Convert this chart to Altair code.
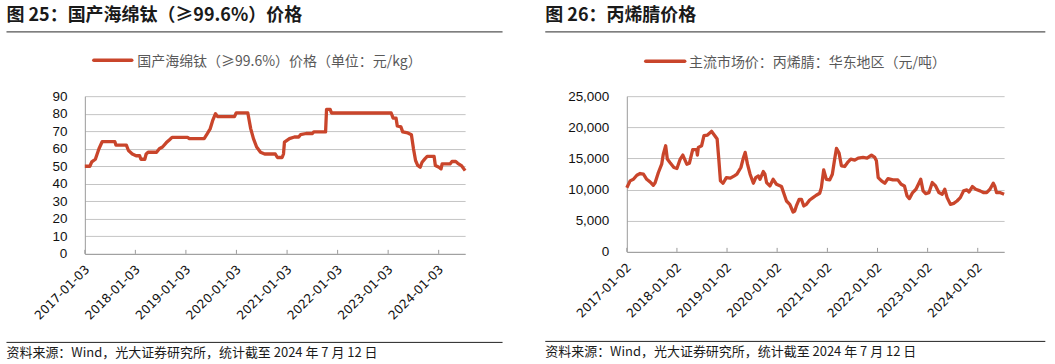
import altair as alt
import pandas as pd

LINE_COLOR = "#C9452B"
AXIS_GRAY = "#9a9a9a"
GRID_GRAY = "#c4c4c4"

# ---------------- data ----------------
ti_dates = [
    "2017-01-03", "2017-02-08", "2017-02-22", "2017-03-20", "2017-04-02", "2017-04-15",
    "2017-05-08", "2017-08-08", "2017-08-16", "2017-10-30", "2017-11-14", "2017-12-12",
    "2018-01-08", "2018-02-03", "2018-02-12", "2018-03-12", "2018-03-22", "2018-04-05",
    "2018-06-05", "2018-06-25", "2018-07-18", "2018-08-15", "2018-09-05", "2018-09-25",
    "2019-01-15", "2019-01-28", "2019-05-15", "2019-06-02", "2019-06-28", "2019-07-15",
    "2019-08-05", "2019-08-20", "2019-12-20", "2020-01-02", "2020-03-25", "2020-04-15",
    "2020-05-05", "2020-05-28", "2020-06-25", "2020-07-25", "2020-10-10", "2020-10-25",
    "2020-11-28", "2020-12-08", "2020-12-15", "2021-01-20", "2021-02-25", "2021-03-28",
    "2021-04-10", "2021-05-20", "2021-07-05", "2021-07-15", "2021-10-08", "2021-10-15",
    "2021-11-10", "2021-11-20", "2023-01-25", "2023-02-08", "2023-03-01", "2023-03-10",
    "2023-04-05", "2023-04-18", "2023-05-25", "2023-06-20", "2023-07-05", "2023-07-20",
    "2023-08-05", "2023-08-22", "2023-09-05", "2023-09-25", "2023-10-12", "2023-12-01",
    "2023-12-10", "2024-01-05", "2024-01-20", "2024-01-28", "2024-03-25", "2024-04-08",
    "2024-05-05", "2024-05-20", "2024-06-15", "2024-07-12",
]
ti_values = [
    50, 50, 52.5, 54, 57, 60,
    64, 64, 62, 62, 59, 57,
    56, 56, 54, 54, 57, 58,
    58, 60, 61, 63.5, 65, 66.5,
    66.5, 65.8, 65.8, 68, 71.5, 76,
    80, 78.3, 78.3, 80.5, 80.5, 71.5,
    65.8, 61, 58, 57, 57, 55,
    55, 57, 63.8, 65.8, 66.7, 66.7,
    68, 68.7, 68.7, 69.6, 69.6, 82.5,
    82.5, 80.4, 80.4, 77.5, 77.5, 73,
    72.5, 69.6, 69, 68, 60, 53.3,
    50.4, 49.4, 52.3, 54.2, 55.6, 55.6,
    50.4, 49.4, 48.5, 51.3, 51.3, 52.7,
    52.7, 51.7, 50.4, 47.5,
]

acn_dates = [
    "2017-01-02", "2017-01-26", "2017-02-19", "2017-03-16", "2017-04-09", "2017-05-03",
    "2017-05-27", "2017-06-20", "2017-07-14", "2017-07-27", "2017-08-20", "2017-09-13",
    "2017-09-25", "2017-10-12", "2017-10-24", "2017-11-12", "2017-12-11", "2018-01-02",
    "2018-01-26", "2018-02-14", "2018-03-15", "2018-04-03", "2018-04-27", "2018-05-26",
    "2018-05-31", "2018-06-07", "2018-07-01", "2018-07-18", "2018-08-13", "2018-09-11",
    "2018-10-05", "2018-10-22", "2018-11-03", "2018-11-15", "2018-12-04", "2018-12-28",
    "2019-01-26", "2019-02-24", "2019-03-15", "2019-04-13", "2019-05-02", "2019-05-14",
    "2019-05-31", "2019-06-19", "2019-07-13", "2019-07-30", "2019-08-18", "2019-08-30",
    "2019-09-23", "2019-10-05", "2019-10-17", "2019-11-10", "2019-12-04", "2019-12-28",
    "2020-02-03", "2020-02-22", "2020-03-10", "2020-04-03", "2020-04-27", "2020-05-09",
    "2020-05-21", "2020-06-10", "2020-06-27", "2020-07-14", "2020-08-02", "2020-08-26",
    "2020-09-19", "2020-10-13", "2020-11-07", "2020-11-19", "2020-12-06", "2020-12-25",
    "2021-01-19", "2021-02-07", "2021-02-24", "2021-03-09", "2021-03-28", "2021-04-14",
    "2021-05-08", "2021-06-02", "2021-06-21", "2021-07-20", "2021-08-14", "2021-09-19",
    "2021-10-18", "2021-11-19", "2021-12-13", "2021-12-25", "2022-01-07", "2022-01-31",
    "2022-02-24", "2022-03-19", "2022-04-24", "2022-05-30", "2022-06-23", "2022-07-17",
    "2022-08-05", "2022-08-22", "2022-09-15", "2022-10-09", "2022-11-02", "2022-11-13",
    "2022-11-30", "2022-12-19", "2023-01-12", "2023-02-05", "2023-03-01", "2023-03-25",
    "2023-04-18", "2023-05-07", "2023-05-24", "2023-06-17", "2023-07-11", "2023-08-04",
    "2023-08-28", "2023-09-21", "2023-10-15", "2023-10-31", "2023-11-24", "2023-12-18",
    "2024-01-19", "2024-02-12", "2024-03-07", "2024-03-31", "2024-04-24", "2024-05-06",
    "2024-05-18", "2024-06-11", "2024-07-12",
]
acn_values = [
    10300, 11400, 11650, 12300, 12580, 12470,
    11650, 11240, 10700, 11100, 12740, 14080,
    15700, 17040, 14900, 14350, 13550, 13390,
    14900, 15540, 14080, 14250, 16400, 16400,
    15540, 16770, 17040, 18650, 18760, 19350,
    18650, 18120, 14900, 11400, 11020, 11930,
    11830, 12200, 12470, 13550, 15160, 15970,
    14080, 12470, 11020, 11930, 12200, 11650,
    12900, 12470, 11130, 10590, 11650, 10860,
    10480, 9250, 8170, 7630, 6400, 6560,
    7370, 8440, 8440, 7370, 7630, 8330,
    8710, 9090, 9410, 10320, 13170, 11650,
    11560, 12470, 14900, 16610, 15860, 13820,
    13710, 14460, 14900, 14730, 15050, 15160,
    15050, 15540, 15160, 14620, 11930, 11400,
    11020, 11770, 11560, 11560, 10860, 10590,
    8980, 8550, 9520, 10050, 11130, 11650,
    9790, 9350, 9520, 11130, 10590, 9520,
    9250, 10050, 8710, 7630, 7790, 8170,
    8710, 9790, 9950, 9620, 10480, 10050,
    9790, 9520, 9520, 10050, 11020, 10480,
    9520, 9520, 9250,
]

ti_ticks = ["2017-01-03", "2018-01-03", "2019-01-03", "2020-01-03",
            "2021-01-03", "2022-01-03", "2023-01-03", "2024-01-03"]
acn_ticks = ["2017-01-02", "2018-01-02", "2019-01-02", "2020-01-02",
             "2021-01-02", "2022-01-02", "2023-01-02", "2024-01-02"]
end_date = "2024-07-12"

ti_yticks = [0, 10, 20, 30, 40, 50, 60, 70, 80, 90]
acn_yticks = [0, 5000, 10000, 15000, 20000, 25000]

ti_title = "图 25：国产海绵钛（≥99.6%）价格"
acn_title = "图 26：丙烯腈价格"
ti_legend = "国产海绵钛（≥99.6%）价格（单位：元/kg）"
acn_legend = "主流市场价：丙烯腈：华东地区（元/吨）"
source_note = "资料来源：Wind，光大证券研究所，统计截至 2024 年 7 月 12 日"

CJK = "Noto Sans CJK SC"


def dt(s):
    y, m, d = (int(p) for p in s.split("-"))
    return alt.DateTime(year=y, month=m, date=d)


def one():
    return pd.DataFrame({"k": [0]})


def panel(dates, values, ticks, yticks, yfmt, W, H, title, legend,
          left_ext, right_ext, top_ext, bottom_ext,
          title_x0, rule_x1, leg_x0, leg_x1, leg_y, leg_tx, foot_rule_y, foot_y):
    df = pd.DataFrame({"date": pd.to_datetime(dates), "value": values})
    tdf = pd.DataFrame({"date": pd.to_datetime(ticks)})
    xscale = alt.Scale(domain=[dt(ticks[0]), dt(end_date)], nice=False)
    xaxis = alt.Axis(
        values=[dt(t) for t in ticks], format="%Y-%m-%d", labelAngle=-45,
        labelAlign="right", labelBaseline="middle", labelPadding=13, labelOffset=2,
        ticks=False, grid=False, domainColor=AXIS_GRAY, domainWidth=1,
        labelFont="DejaVu Sans", labelFontSize=12.3, labelColor="#111111",
        labelOverlap=False, labelBound=False, title=None,
    )
    yaxis = alt.Axis(
        values=yticks, format=yfmt, ticks=False, labelPadding=18,
        grid=True, gridColor=GRID_GRAY, gridWidth=1,
        domainColor=AXIS_GRAY, domainWidth=1,
        labelFont="Liberation Sans", labelFontSize=13.5, labelColor="#111111",
        title=None,
    )
    line = alt.Chart(df).mark_line(color=LINE_COLOR, strokeWidth=3.3, strokeJoin="round").encode(
        x=alt.X("date:T", scale=xscale, axis=xaxis),
        y=alt.Y("value:Q", scale=alt.Scale(domain=[yticks[0], yticks[-1]], nice=False), axis=yaxis),
    )
    tick_marks = alt.Chart(tdf).mark_rule(color=AXIS_GRAY, strokeWidth=1).encode(
        x=alt.X("date:T", scale=xscale, axis=xaxis),
        y=alt.value(H - 4), y2=alt.value(H),
    )
    bounds = alt.Chart(one()).mark_rect(opacity=0).encode(
        x=alt.value(left_ext), x2=alt.value(right_ext),
        y=alt.value(top_ext), y2=alt.value(bottom_ext),
    )
    title_txt = alt.Chart(one()).mark_text(
        text=title, font=CJK, fontSize=18, fontWeight="bold", color="#1a1a1a",
        align="left", baseline="middle",
    ).encode(x=alt.value(title_x0), y=alt.value(-80.5))
    title_rule = alt.Chart(one()).mark_rule(color="#555555", strokeWidth=1.2).encode(
        x=alt.value(title_x0), x2=alt.value(rule_x1), y=alt.value(-64.5))
    leg_line = alt.Chart(one()).mark_rule(color=LINE_COLOR, strokeWidth=3.5, strokeCap="round").encode(
        x=alt.value(leg_x0), x2=alt.value(leg_x1), y=alt.value(leg_y))
    leg_txt = alt.Chart(one()).mark_text(
        text=legend, font=CJK, fontSize=14, color="#595959",
        align="left", baseline="middle",
    ).encode(x=alt.value(leg_tx), y=alt.value(leg_y + 1.5))
    foot_rule = alt.Chart(one()).mark_rule(color="#222222", strokeWidth=1).encode(
        x=alt.value(title_x0), x2=alt.value(rule_x1), y=alt.value(foot_rule_y))
    foot_txt = alt.Chart(one()).mark_text(
        text=source_note, font=CJK, fontSize=13, color="#1a1a1a",
        align="left", baseline="middle",
    ).encode(x=alt.value(title_x0), y=alt.value(foot_y))
    return alt.layer(
        bounds, tick_marks, line, title_txt, title_rule, leg_line, leg_txt, foot_rule, foot_txt
    ).properties(width=W, height=H)


left = panel(ti_dates, ti_values, ti_ticks, ti_yticks, "d", 381, 158, ti_title, ti_legend,
             left_ext=-84.5, right_ext=442.5, top_ext=-96, bottom_ext=268,
             title_x0=-78.5, rule_x1=418.5, leg_x0=9, leg_x1=47, leg_y=-36, leg_tx=52.5,
             foot_rule_y=246.7, foot_y=257)

right = panel(acn_dates, acn_values, acn_ticks, acn_yticks, ",d", 378, 156, acn_title, acn_legend,
              left_ext=-99.7, right_ext=428.3, top_ext=-96, bottom_ext=268,
              title_x0=-81.7, rule_x1=419.3, leg_x0=19, leg_x1=58, leg_y=-35, leg_tx=62.3,
              foot_rule_y=245.7, foot_y=256)

chart = alt.hconcat(left, right, spacing=0).properties(
    padding=0, background="white"
).configure_view(strokeWidth=0)

chart.save("out.html", embed_options={"renderer": "svg", "actions": False})
